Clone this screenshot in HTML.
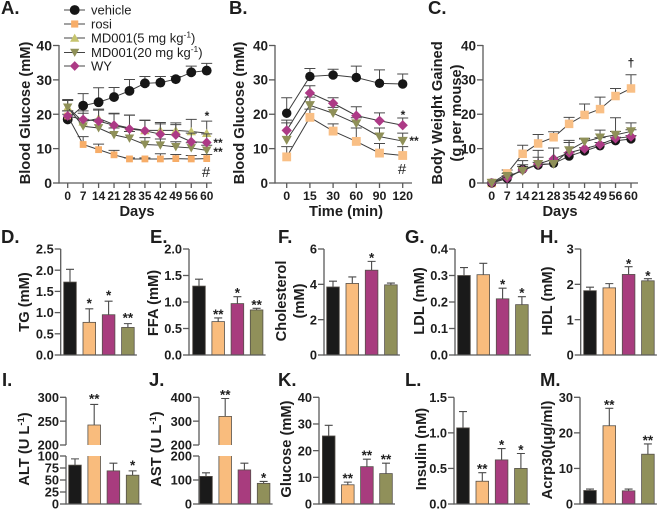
<!DOCTYPE html>
<html>
<head>
<meta charset="utf-8">
<style>
html,body{margin:0;padding:0;background:#fff;width:660px;height:511px;overflow:hidden}
svg{display:block;font-family:"Liberation Sans",sans-serif;filter:blur(0.35px)}
text{fill:#1e1e1e}
</style>
</head>
<body>
<svg id="fig" width="660" height="511" viewBox="0 0 660 511" xmlns="http://www.w3.org/2000/svg"></svg>
<script>
// ---- Panel A data ----
const daysA = ['0','7','14','21','28','35','42','49','56','60'];
const aVehicle = [18.5,22.5,23.5,25,26.8,29,29.2,30.2,32.2,32.7];
const aVehicleErr = [1.5,3.5,4.2,2.8,3.3,2,1.8,0.8,1.8,2.1];
const aRosi = [19.5,11.2,9.7,8.2,7,7,7,7.1,7,7.1];
const aRosiErr = [1.5,2.3,1.6,1.3,0.3,0.3,1.5,1.2,1,1.2];
const aMd5 = [22,17.8,18.8,17,16,15.3,15.3,15.3,15,14.5];
const aMd5Err = [2.3,2.5,2.7,3.3,3.8,3,2.3,2.2,3.5,3.5];
const aMd20 = [22,16.5,16,14,13,11.2,11,10.5,10.2,9.5];
const aMd20Err = [2,2,2,2,2,2,1.8,1.5,1.5,1.5];
const aWy = [19.5,18.5,18,16.8,15.7,15.2,14.2,14,12,11.8];
const aWyErr = [1.5,2.5,3.2,3.3,4,3,3,3,2.5,2.5];
// ---- Panel B data ----
const minutesB = ['0','15','30','60','90','120'];
const bVehicle = [20.3,31,31.4,30.7,29,28.8];
const bVehicleErr = [4.5,2.3,1.7,3.3,3.9,2.9];
const bRosi = [7.6,19.1,15.1,12.1,8.7,8];
const bRosiErr = [3,2.4,2.1,3.9,2.8,2.6];
const bMd20 = [12.5,22.6,20.3,17.3,13.5,12.2];
const bMd20Err = [5,2.4,1.7,1.7,2.5,2.3];
const bWy = [15.3,26.2,23.2,19.6,18.1,16.8];
const bWyErr = [3,2.1,1.6,2.6,2.3,2.1];
// ---- Panel C data ----
const daysC = ['0','7','14','21','28','35','42','49','56','60'];
const cVehicle = [0,1.3,4,5.2,5.7,7.8,9.3,10.8,12.3,12.8];
const cVehicleErr = [0,0.5,0.8,0.8,0.8,1,1,1,1,1];
const cWy = [0,1.5,3.8,5.5,7,8.8,10,11.2,13,13.5];
const cWyErr = [0,0.6,1.5,2,3.2,3,2.8,2,2,2];
const cRosi = [0,2.8,8.5,11.5,13.3,17.2,19.8,21.5,25.3,27.5];
const cRosiErr = [0,1,2.5,2.6,1.6,1.9,3.2,3.5,2.2,4];
const cMd20 = [0,2,3.5,5.5,5.5,9.5,12,13.2,14,15];
const cMd20Err = [0,0.8,3,4,4.7,2.9,1,2.2,5,2.5];
// ---- Tick labels ----
const ticks40 = [0,10,20,30,40];
const ticksTG = [0,0.5,1,1.5,2,2.5];
const ticksFFA = [0,0.5,1,1.5,2];
const ticksChol = [0,2,4,6];
const ticksLDL = [0,0.1,0.2,0.3,0.4];
const ticksHDL = [0,1,2,3];
const ticksALT = [0,25,50,75,100,200,250,300];
const ticksAST = [0,100,200,'200b',300,400];
const ticksGlu = [0,10,20,30,40];
const ticksIns = [0,0.5,1,1.5];
const ticksAcrp = [0,10,20,30];
// ---- Bar data (vehicle, rosi, WY, MD001) ----
const barNames = ['vehicle','rosi','wy','md001'];
const tgValues = [1.72,0.77,0.95,0.65];
const tgErrors = [0.3,0.32,0.32,0.09];
const tgStars = ['','*','*','**'];
const ffaValues = [1.3,0.63,0.97,0.85];
const ffaErrors = [0.13,0.07,0.13,0.03];
const ffaStars = ['','**','*','**'];
const cholValues = [3.85,4.05,4.8,3.97];
const cholErrors = [0.33,0.37,0.5,0.1];
const cholStars = ['','','*',''];
const ldlValues = [0.3,0.303,0.212,0.19];
const ldlErrors = [0.03,0.043,0.04,0.03];
const ldlStars = ['','','*','*'];
const hdlValues = [1.82,1.9,2.28,2.1];
const hdlErrors = [0.1,0.12,0.22,0.06];
const hdlStars = ['','','*','*'];
const altValues = [81,242,69,60];
const altErrors = [13,43,16,9];
const altStars = ['','**','','*'];
const astValues = [115,320,142,86];
const astErrors = [15,75,28,8];
const astStars = ['','**','','*'];
const gluValues = [25.5,7.2,14,11.4];
const gluErrors = [4,1,2.8,3.9];
const gluStars = ['','**','**','**'];
const insValues = [1.07,0.32,0.62,0.5];
const insErrors = [0.23,0.12,0.16,0.21];
const insStars = ['','**','*','*'];
const acrpValues = [3.8,22,3.7,14];
const acrpErrors = [0.4,4.9,0.5,2.9];
const acrpStars = ['','**','','**'];

const COL = {vehicle:'#161616',rosi:'#f7ad68',rosiC:'#f9bf85',md5:'#c6c46e',md20:'#8f9058',wy:'#ad3a86'};
const BARCOL = {vehicle:'#1a1a1a',rosi:'#f9bc7d',wy:'#a83c7e',md001:'#90905a'};
const AXIS = '#5a5a5a';
const root = document.getElementById('fig');
const NS = 'http://www.w3.org/2000/svg';

function shape(tag, attrs, parent){
  const el = document.createElementNS(NS, tag);
  for (const k in attrs) el.setAttribute(k, attrs[k]);
  (parent || root).appendChild(el);
  return el;
}
function label(txt, x, y, size, weight, anchor, parent){
  const el = shape('text', {x:x, y:y, 'font-size':size, 'font-weight':weight, 'text-anchor':anchor}, parent);
  el.textContent = txt;
  return el;
}
function linear(d0, d1, r0, r1){
  return v => r0 + (v - d0) / (d1 - d0) * (r1 - r0);
}
function panelLetter(txt, x, y){
  const el = label(txt, x, y, 18.5, 'bold', 'start');
  
  
}
function yTitle(txt, x, cy, sup, tail){
  const el = shape('text', {transform:'translate('+x+','+cy+') rotate(-90)', 'font-size':14.7, 'font-weight':'bold', 'text-anchor':'middle'});
  el.textContent = txt;
  if (sup){
    const s = shape('tspan', {dy:-5, 'font-size':9.5}, el);
    s.textContent = sup;
    const t = shape('tspan', {dy:5}, el);
    t.textContent = tail;
  }
  
  
}
function xTitle(txt, x, y){
  const el = label(txt, x, y, 14.7, 'bold', 'middle');
  
  
}
function note(txt, x, y, size, weight){
  const el = label(txt, x, y, size, weight || 'bold', 'middle');
  
  
}
function axisLine(x1, y1, x2, y2, name){
  const el = shape('line', {x1:x1, y1:y1, x2:x2, y2:y2, stroke:AXIS, 'stroke-width':1.3});
  
  
}
function yTick(axisX, y, txt, size){
  axisLine(axisX - 6, y, axisX, y, 'y-tick');
  const el = label(txt, axisX - 7, y + size * 0.36, size, 'bold', 'end');
  
  
}
function marker(kind, x, y, color, s, parent){
  let el;
  if (kind === 'circle') el = shape('circle', {cx:x, cy:y, r:s * 1.05, fill:color}, parent);
  else if (kind === 'square') el = shape('rect', {x:x - s * 0.85, y:y - s * 0.85, width:s * 1.7, height:s * 1.7, fill:color}, parent);
  else if (kind === 'up') el = shape('polygon', {points:(x-s*1.1)+','+(y+s*0.9)+' '+(x+s*1.1)+','+(y+s*0.9)+' '+x+','+(y-s*1.05), fill:color}, parent);
  else if (kind === 'down') el = shape('polygon', {points:(x-s*1.1)+','+(y-s*0.9)+' '+(x+s*1.1)+','+(y-s*0.9)+' '+x+','+(y+s*1.05), fill:color}, parent);
  else el = shape('polygon', {points:(x-s*1.15)+','+y+' '+x+','+(y-s*1.15)+' '+(x+s*1.15)+','+y+' '+x+','+(y+s*1.15), fill:color}, parent);
  
  
}
function lineSeries(name, kind, color, values, errors, xf, yf, size, capW){
  const g = shape('g', {});
  
  
  values.forEach((v, i) => {
    const x = xf(i), top = yf(v + errors[i]);
    const a = shape('path', {d:'M'+x+' '+yf(v)+'V'+top+'M'+(x-capW/2)+' '+top+'H'+(x+capW/2), stroke:'#4a4a4a', 'stroke-width':1, fill:'none'}, g);
    
    
  });
  const ln = shape('polyline', {points:values.map((v, i) => xf(i) + ',' + yf(v)).join(' '), fill:'none', stroke:'#3c3c3c', 'stroke-width':1}, g);
  
  
  values.forEach((v, i) => marker(kind, xf(i), yf(v), color, size, g));
}
function lineAxes(axisX, endX, cats, firstX, lastX, tickSize, yLab, catSize){
  const xf = linear(0, cats.length - 1, firstX, lastX);
  const yf = linear(0, 40, 183, 45.5);
  axisLine(axisX, 45, axisX, 183.6, 'y-axis');
  axisLine(axisX, 183, endX, 183, 'x-axis');
  ticks40.forEach(t => yTick(axisX, yf(t), String(t), tickSize));
  cats.forEach((c, i) => {
    axisLine(xf(i), 183, xf(i), 188, 'x-tick');
    const el = label(c, xf(i), 200, catSize, 'bold', 'middle');
    
    
  });
  return {xf:xf, yf:yf};
}
function barPanel(o){
  const g = shape('g', {});
  
  
  const y0 = o.y0;
  o.values.forEach((v, i) => {
    const cx = o.first + i * o.step;
    const top = o.yf(v);
    const errTop = o.yf(v + o.errors[i]);
    const color = BARCOL[barNames[i]];
    const e = shape('path', {d:'M'+cx+' '+top+'V'+errTop+'M'+(cx-4)+' '+errTop+'H'+(cx+4), stroke:'#4a4a4a', 'stroke-width':1.1, fill:'none'}, g);
    
    
    const L = cx - 6.3, R = cx + 6.3;
    if (o.brk && v > o.brk.lowMax){
      const b = o.brk.upBase, t = o.brk.lowTop;
      const upper = shape('path', {d:'M'+L+' '+b+'V'+top+'H'+R+'V'+b, fill:color, stroke:'#55504a', 'stroke-width':0.8}, g);
      
      
      const lower = shape('path', {d:'M'+L+' '+t+'V'+y0+'H'+R+'V'+t, fill:color, stroke:'#55504a', 'stroke-width':0.8}, g);
      
      
    } else {
      const r = shape('rect', {x:L, y:top, width:12.6, height:y0 - top, fill:color, stroke:'#55504a', 'stroke-width':0.8}, g);
      
      
    }
    if (o.stars[i]) note(o.stars[i], cx, errTop - (o.gap || 6) + 7, 13.5);
  });
  axisLine(o.axisX, o.top, o.axisX, y0 + 0.6, 'y-axis');
  axisLine(o.axisX, y0, o.first + 3 * o.step + 9, y0, 'x-axis');
}
function simpleBar(name, axisX, first, step, top, y0, max, ticks, values, errors, stars, gap, digits){
  const yf = linear(0, max, y0, top);
  ticks.forEach(t => yTick(axisX, yf(t), digits ? t.toFixed(digits) : String(t), 12.8));
  barPanel({name:name, axisX:axisX, first:first, step:step, top:top, y0:y0, yf:yf, values:values, errors:errors, stars:stars, gap:gap});
}
function brokenBar(name, axisX, first, step, lowMax, upMin, upMax, ticks, values, errors, stars, gap){
  const y0 = 504, lowTop = 456, upBase = 445, top = 397.3;
  const lowF = linear(0, lowMax, y0, lowTop), upF = linear(upMin, upMax, upBase, top);
  const yf = v => v <= lowMax ? lowF(v) : upF(v);
  ticks.forEach(t => {
    if (t === '200b') yTick(axisX, upBase, '200', 12.8);
    else yTick(axisX, (t === upMin && lowMax !== upMin) ? upBase : yf(t), String(t), 12.8);
  });
  axisLine(axisX, top, axisX, upBase, 'y-axis-upper');
  barPanel({name:name, axisX:axisX, first:first, step:step, top:lowTop, y0:y0, yf:yf, values:values, errors:errors, stars:stars, gap:gap, brk:{lowMax:lowMax, upBase:upBase, lowTop:lowTop}});
}

// ---- Panel letters ----
[['A.',1,14],['B.',229,14],['C.',428,14],['D.',1,243],['E.',150,243],['F.',278,243],['G.',405,243],['H.',540,243],['I.',2,386],['J.',149,386],['K.',278,386],['L.',405,386],['M.',540,386]].forEach(p => panelLetter(p[0], p[1], p[2]));

// ---- Panel A ----
yTitle('Blood Glucose (mM)', 30, 113);
const pa = lineAxes(59, 212, daysA, 67.7, 206.7, 14, '', 11.9);
lineSeries('a-vehicle', 'circle', COL.vehicle, aVehicle, aVehicleErr, pa.xf, pa.yf, 4.7, 11);
lineSeries('a-rosi', 'square', COL.rosi, aRosi, aRosiErr, pa.xf, pa.yf, 4, 11);
lineSeries('a-md5', 'up', COL.md5, aMd5, aMd5Err, pa.xf, pa.yf, 4.3, 11);
lineSeries('a-md20', 'down', COL.md20, aMd20, aMd20Err, pa.xf, pa.yf, 4.3, 11);
lineSeries('a-wy', 'diamond', COL.wy, aWy, aWyErr, pa.xf, pa.yf, 4.3, 11);
xTitle('Days', 137, 216);
note('*', 207, 120, 12);
note('**', 218, 147, 12);
note('**', 218, 156, 12);
note('#', 206, 177, 15, 'normal');

// ---- Legend ----
const legendRows = [['vehicle','circle',COL.vehicle,10],['rosi','square',COL.rosi,24],['MD001(5 mg kg','up',COL.md5,38],['MD001(20 mg kg','down',COL.md20,52.5],['WY','diamond',COL.wy,66]];
legendRows.forEach(r => {
  const g = shape('g', {});
  
  
  const l = shape('line', {x1:64, y1:r[3], x2:85, y2:r[3], stroke:'#444', 'stroke-width':1}, g);
  
  
  marker(r[1], 74.7, r[3], r[2], r[1] === 'circle' ? 4.7 : 4.2, g);
  const t = label(r[0], 91, r[3] + 4.6, 13, 'normal', 'start', g);
  
  
  if (r[0].indexOf('MD001') === 0){
    const s = shape('tspan', {dy:-5, 'font-size':8.5}, t);
    s.textContent = '-1';
    const c = shape('tspan', {dy:5}, t);
    c.textContent = ')';
  }
});

// ---- Panel B ----
yTitle('Blood Glucose (mM)', 244, 113);
const pb = lineAxes(275, 412, minutesB, 286.7, 402.7, 13.5, '', 12.4);
lineSeries('b-vehicle', 'circle', COL.vehicle, bVehicle, bVehicleErr, pb.xf, pb.yf, 4.5, 11);
lineSeries('b-rosi', 'square', COL.rosiC, bRosi, bRosiErr, pb.xf, pb.yf, 5.2, 11);
lineSeries('b-md20', 'down', COL.md20, bMd20, bMd20Err, pb.xf, pb.yf, 4.6, 11);
lineSeries('b-wy', 'diamond', COL.wy, bWy, bWyErr, pb.xf, pb.yf, 4.5, 11);
xTitle('Time (min)', 346, 216);
note('*', 403, 119, 12);
note('**', 414, 145, 12);
note('#', 402, 174, 15, 'normal');

// ---- Panel C ----
yTitle('Body Weight Gained', 442, 113);
yTitle('(g per mouse)', 461, 113);
const pc = lineAxes(483, 638, daysC, 491.7, 631, 13.5, '', 12.4);
lineSeries('c-rosi', 'square', COL.rosiC, cRosi, cRosiErr, pc.xf, pc.yf, 5, 11);
lineSeries('c-vehicle', 'circle', COL.vehicle, cVehicle, cVehicleErr, pc.xf, pc.yf, 4.4, 11);
lineSeries('c-wy', 'diamond', COL.wy, cWy, cWyErr, pc.xf, pc.yf, 4.5, 11);
lineSeries('c-md20', 'down', COL.md20, cMd20, cMd20Err, pc.xf, pc.yf, 4.6, 11);
xTitle('Days', 560, 216);
note('\u2020', 631, 67, 12);

// ---- Row 2 ----
yTitle('TG (mM)', 29, 302);
simpleBar('tg', 60.7, 70, 19.3, 249, 355, 2.5, ticksTG, tgValues, tgErrors, tgStars, 8, 1);
yTitle('FFA (mM)', 158, 303);
simpleBar('ffa', 189, 199, 19.2, 249, 355, 2, ticksFFA, ffaValues, ffaErrors, ffaStars, 6, 1);
yTitle('Cholesterol', 286, 301);
yTitle('(mM)', 304, 301);
simpleBar('cholesterol', 324, 333, 19.3, 249, 355, 6, ticksChol, cholValues, cholErrors, cholStars, 6, 0);
yTitle('LDL (mM)', 424, 301);
simpleBar('ldl', 455, 464, 19.3, 249, 355, 0.4, ticksLDL, ldlValues, ldlErrors, ldlStars, 6, 1);
yTitle('HDL (mM)', 552, 301);
simpleBar('hdl', 580.7, 590, 19.3, 249, 355, 3, ticksHDL, hdlValues, hdlErrors, hdlStars, 5, 0);

// ---- Row 3 ----
yTitle('ALT (U L', 29, 449, '-1', ')');
brokenBar('alt', 66, 75, 19.2, 100, 200, 300, ticksALT, altValues, altErrors, altStars, 8);
yTitle('AST (U L', 161, 449, '-1', ')');
brokenBar('ast', 199, 206, 19.2, 200, 200, 400, ticksAST, astValues, astErrors, astStars, 6);
yTitle('Glucose (mM)', 291, 449);
simpleBar('glucose', 319, 328.7, 19.1, 397.3, 504, 40, ticksGlu, gluValues, gluErrors, gluStars, 6, 0);
yTitle('Insulin (nM)', 426, 449);
simpleBar('insulin', 454, 463, 19.3, 397.3, 504, 1.5, ticksIns, insValues, insErrors, insStars, 6, 1);
yTitle('Acrp30(\u03BCg/ml)', 552, 450);
simpleBar('acrp30', 580, 590, 19.3, 397.3, 504, 30, ticksAcrp, acrpValues, acrpErrors, acrpStars, 6, 0);
</script>
</body>
</html>
